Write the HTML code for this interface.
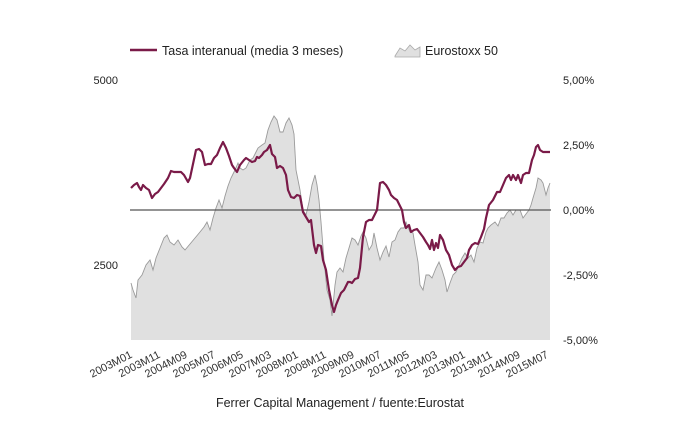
<!DOCTYPE html>
<html><head><meta charset="utf-8"><style>
body{margin:0;background:#fff;width:680px;height:420px;overflow:hidden;font-family:"Liberation Sans",sans-serif;}
</style></head><body>
<svg width="680" height="420" xmlns="http://www.w3.org/2000/svg" font-family="Liberation Sans, sans-serif">
<line x1="130" y1="50" x2="157" y2="50" stroke="#7a1a48" stroke-width="2.5"/>
<text x="162" y="55" font-size="12.5" fill="#222">Tasa interanual (media 3 meses)</text>
<path d="M395,56 L400,48 L405,51 L410,45 L415,50 L420,47 L420,57 L395,57Z" fill="#e0e0e0" stroke="#aaa" stroke-width="0.8"/>
<text x="425" y="55" font-size="12.5" fill="#222">Eurostoxx 50</text>
<polygon fill="#e0e0e0" stroke="none" points="131,340 131,283 133,290 136,298 138,280 142,275 146,265 150,260 153,270 156,258 160,248 164,238 167,235 170,242 174,245 178,240 182,247 185,250 190,244 195,238 200,232 204,227 207,222 210,230 213,218 216,208 219,200 222,208 225,196 228,186 231,178 235,170 238,163 240,168 243,170 246,168 250,160 253,158 256,152 258,148 262,145 265,143 268,130 271,122 274,116 277,120 280,132 283,132 286,123 289,118 292,125 294,134 296,170 300,190 303,210 306,215 309,202 312,185 315,175 317,185 319,200 321,222 324,260 327,290 330,300 332,316 335,285 337,272 340,268 343,272 346,258 349,248 352,238 355,240 358,245 361,236 363,232 366,238 369,250 372,245 374,233 377,248 380,260 383,252 386,246 389,257 392,242 395,240 398,232 401,228 404,228 406,222 410,232 413,233 415,245 418,262 420,285 423,290 426,275 429,275 432,278 436,268 439,262 442,270 445,280 447,292 450,283 453,275 456,272 459,265 462,258 465,253 468,258 471,255 474,262 477,248 480,242 483,243 486,232 488,228 491,225 495,222 498,226 501,218 504,218 507,213 510,210 513,215 516,210 520,210 523,218 526,214 529,210 531,205 533,198 536,188 538,178 541,180 543,183 546,195 548,188 550,183 550,340"/>
<polyline fill="none" stroke="#9a9a9a" stroke-width="0.9" points="131,283 133,290 136,298 138,280 142,275 146,265 150,260 153,270 156,258 160,248 164,238 167,235 170,242 174,245 178,240 182,247 185,250 190,244 195,238 200,232 204,227 207,222 210,230 213,218 216,208 219,200 222,208 225,196 228,186 231,178 235,170 238,163 240,168 243,170 246,168 250,160 253,158 256,152 258,148 262,145 265,143 268,130 271,122 274,116 277,120 280,132 283,132 286,123 289,118 292,125 294,134 296,170 300,190 303,210 306,215 309,202 312,185 315,175 317,185 319,200 321,222 324,260 327,290 330,300 332,316 335,285 337,272 340,268 343,272 346,258 349,248 352,238 355,240 358,245 361,236 363,232 366,238 369,250 372,245 374,233 377,248 380,260 383,252 386,246 389,257 392,242 395,240 398,232 401,228 404,228 406,222 410,232 413,233 415,245 418,262 420,285 423,290 426,275 429,275 432,278 436,268 439,262 442,270 445,280 447,292 450,283 453,275 456,272 459,265 462,258 465,253 468,258 471,255 474,262 477,248 480,242 483,243 486,232 488,228 491,225 495,222 498,226 501,218 504,218 507,213 510,210 513,215 516,210 520,210 523,218 526,214 529,210 531,205 533,198 536,188 538,178 541,180 543,183 546,195 548,188 550,183"/>
<line x1="130" y1="210" x2="551" y2="210" stroke="#555" stroke-width="1.2"/>
<polyline fill="none" stroke="#7a1a48" stroke-width="2.2" stroke-linejoin="round" points="131,188 134,185 137,183 139,187 141,190 143,185 146,188 149,190 152,198 155,194 158,192 161,188 164,184 168,178 171,171 174,172 178,172 181,172 184,175 188,182 190,178 193,164 196,150 199,149 202,152 205,165 208,164 211,164 214,158 217,155 220,148 223,142 226,148 229,156 232,165 234,168 237,172 240,165 244,160 246,158 249,160 252,162 255,161 257,157 259,158 262,155 264,152 267,150 270,145 272,154 275,157 277,168 280,166 283,168 286,175 288,190 291,197 294,198 297,195 300,196 303,212 306,217 309,222 311,220 314,245 316,253 318,245 321,246 323,260 326,270 329,290 332,305 334,312 336,305 338,300 341,293 344,290 346,286 348,282 350,282 352,283 355,279 358,278 360,268 363,237 366,222 369,220 372,220 375,214 377,210 380,183 383,182 386,185 389,190 391,195 394,198 397,200 399,204 402,210 404,222 406,228 409,225 411,232 414,230 417,229 420,233 423,237 426,242 428,245 430,249 432,240 434,250 436,243 438,248 440,235 443,240 446,250 449,255 452,265 455,270 458,267 461,266 464,262 467,258 469,250 472,245 475,243 478,244 481,237 484,229 486,218 489,205 493,200 497,192 500,192 503,185 506,178 509,175 511,180 513,175 516,180 518,175 521,183 523,175 526,173 529,173 532,160 534,155 536,147 538,145 540,150 543,152 546,152 550,152"/>
<g font-size="11" fill="#222">
<text x="118" y="84" text-anchor="end">5000</text>
<text x="118" y="269" text-anchor="end">2500</text>
<g text-anchor="start">
<text x="563" y="84">5,00%</text>
<text x="563" y="149">2,50%</text>
<text x="563" y="214">0,00%</text>
<text x="563" y="279">-2,50%</text>
<text x="563" y="344">-5,00%</text>
</g>
<g text-anchor="end" fill="#333">
<text transform="translate(133,357) rotate(-27)">2003M01</text>
<text transform="translate(161,357) rotate(-27)">2003M11</text>
<text transform="translate(188,357) rotate(-27)">2004M09</text>
<text transform="translate(216,357) rotate(-27)">2005M07</text>
<text transform="translate(244,357) rotate(-27)">2006M05</text>
<text transform="translate(272,357) rotate(-27)">2007M03</text>
<text transform="translate(299,357) rotate(-27)">2008M01</text>
<text transform="translate(327,357) rotate(-27)">2008M11</text>
<text transform="translate(355,357) rotate(-27)">2009M09</text>
<text transform="translate(382,357) rotate(-27)">2010M07</text>
<text transform="translate(410,357) rotate(-27)">2011M05</text>
<text transform="translate(438,357) rotate(-27)">2012M03</text>
<text transform="translate(466,357) rotate(-27)">2013M01</text>
<text transform="translate(493,357) rotate(-27)">2013M11</text>
<text transform="translate(521,357) rotate(-27)">2014M09</text>
<text transform="translate(549,357) rotate(-27)">2015M07</text>
</g>
</g>
<text x="340" y="407" text-anchor="middle" font-size="12.5" fill="#222">Ferrer Capital Management / fuente:Eurostat</text>
</svg>
</body></html>
